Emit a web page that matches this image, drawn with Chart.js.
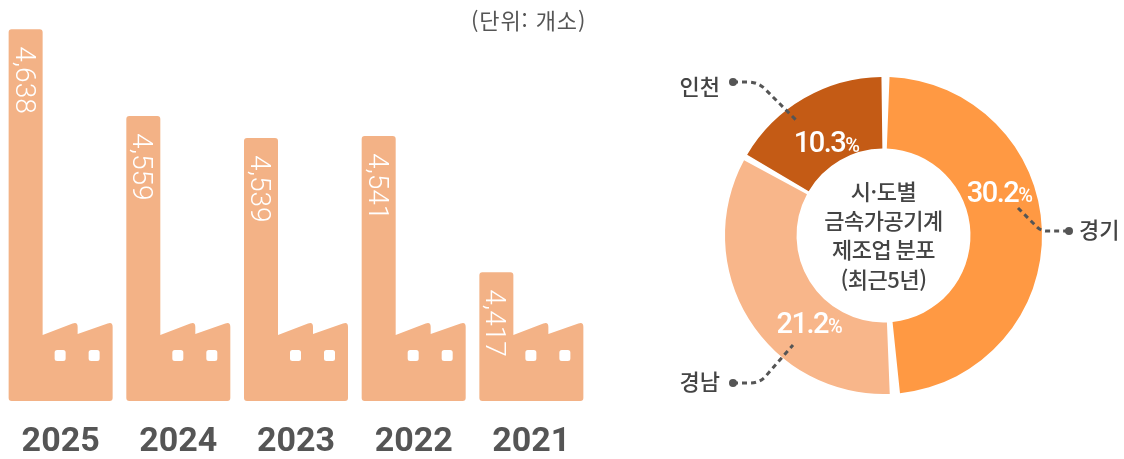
<!DOCTYPE html>
<html lang="ko">
<head>
<meta charset="utf-8">
<title>금속가공기계 제조업</title>
<script src="https://cdn.jsdelivr.net/npm/chart.js@4.4.1/dist/chart.umd.min.js"></script>
<style>
  html, body { margin: 0; padding: 0; background: #fff; }
  body { width: 1124px; height: 459px; position: relative; overflow: hidden; font-family: "Noto Sans CJK KR", sans-serif; }
  #barBox { position: absolute; left: -2px; top: 0; width: 596px; height: 459px; }
  #pieBox { position: absolute; left: 640px; top: 0; width: 484px; height: 459px; }
  .unit { position: absolute; left: 471px; top: 3px; font-size: 22px; color: #555; letter-spacing: 0.9px; }
</style>
</head>
<body>
<div id="barBox"><canvas id="factoryChart"></canvas></div>
<div id="pieBox"><canvas id="regionChart"></canvas></div>
<div class="unit">(단위: 개소)</div>
<script>
// data
const years = ['2025', '2024', '2023', '2022', '2021'];
const factoryCounts = [4638, 4559, 4539, 4541, 4417];
const regions = ['경기', '경남', '인천'];
const regionShares = [30.2, 21.2, 10.3];
const centerLines = ['시·도별', '금속가공기계', '제조업 분포', '(최근5년)'];

const axisMin = 4300, axisMax = 4650;
const factoryColor = '#F3B286';

// draws each bar as a factory: chimney up to the value, building at the base
const factoryShape = {
  id: 'factoryShape',
  afterDatasetsDraw(chart) {
    const ctx = chart.ctx;
    const meta = chart.getDatasetMeta(0);
    meta.data.forEach(function(bar, i) {
      const L = bar.x - bar.width / 2;
      const B = bar.base;
      const T = bar.y;
      const cw = 34, r = 3;
      ctx.save();
      ctx.fillStyle = factoryColor;
      ctx.beginPath();
      ctx.moveTo(L, B - r);
      ctx.lineTo(L, T + r);
      ctx.quadraticCurveTo(L, T, L + r, T);
      ctx.lineTo(L + cw - r, T);
      ctx.quadraticCurveTo(L + cw, T, L + cw, T + r);
      ctx.lineTo(L + cw, B - 66);
      ctx.lineTo(L + 64, B - 77.5);
      ctx.quadraticCurveTo(L + 69, B - 79.5, L + 69, B - 74);
      ctx.lineTo(L + 69, B - 67);
      ctx.lineTo(L + 99, B - 77.5);
      ctx.quadraticCurveTo(L + 104, B - 79.5, L + 104, B - 74);
      ctx.lineTo(L + 104, B - r);
      ctx.quadraticCurveTo(L + 104, B, L + 104 - r, B);
      ctx.lineTo(L + r, B);
      ctx.quadraticCurveTo(L, B, L, B - r);
      ctx.closePath();
      ctx.fill();

      // windows
      ctx.fillStyle = '#fff';
      ctx.beginPath();
      ctx.roundRect(L + 46, B - 51, 11, 11, 2.5);
      ctx.roundRect(L + 80, B - 51, 11, 11, 2.5);
      ctx.fill();

      // value, rotated down the chimney
      ctx.font = '300 28px Roboto, "Noto Sans", sans-serif';
      ctx.fillStyle = '#fff';
      ctx.textAlign = 'left';
      ctx.textBaseline = 'alphabetic';
      ctx.translate(L + cw / 2 - 10, T + 17);
      ctx.rotate(Math.PI / 2);
      ctx.fillText(factoryCounts[i].toLocaleString('en-US'), 0, 0);
      ctx.restore();
    });
  }
};

new Chart(document.getElementById('factoryChart'), {
  type: 'bar',
  data: {
    labels: years,
    datasets: [{
      data: factoryCounts,
      base: axisMin,
      backgroundColor: 'rgba(0,0,0,0)',
      barThickness: 104
    }]
  },
  options: {
    responsive: true,
    maintainAspectRatio: false,
    animation: false,
    layout: { padding: { top: 16, left: 0, right: 0, bottom: 0 } },
    scales: {
      x: {
        grid: { display: false, drawTicks: false },
        border: { display: false },
        afterFit: function(scale) { scale.height = 58; },
        ticks: {
          color: '#555',
          padding: 24,
          maxRotation: 0,
          font: { family: 'Roboto, "Noto Sans", sans-serif', size: 34, weight: 'bold', lineHeight: 1 }
        }
      },
      y: { display: false, min: axisMin, max: axisMax }
    },
    plugins: { legend: { display: false }, tooltip: { enabled: false } }
  },
  plugins: [factoryShape]
});

// percentages, centre title and callouts for the doughnut
const ringText = {
  id: 'ringText',
  afterDatasetsDraw(chart, args, opts) {
    const ctx = chart.ctx;
    const arcs = chart.getDatasetMeta(0).data;
    const cx = arcs[0].x, cy = arcs[0].y;

    arcs.forEach(function(arc, i) {
      const a = (arc.startAngle + arc.endAngle) / 2 + opts.angleShift[i] * Math.PI / 180;
      const rr = (arc.innerRadius + arc.outerRadius) / 2 + opts.radiusShift[i];
      const x = cx + Math.cos(a) * rr;
      const y = cy + Math.sin(a) * rr;
      const num = regionShares[i].toFixed(1);
      ctx.save();
      ctx.fillStyle = '#fff';
      ctx.textBaseline = 'alphabetic';
      ctx.textAlign = 'left';
      ctx.letterSpacing = '-1.5px';
      ctx.font = '500 29px Roboto, sans-serif';
      const w1 = ctx.measureText(num).width;
      ctx.font = '500 20px Roboto, sans-serif';
      const w2 = ctx.measureText('%').width;
      const x0 = x - (w1 + w2) / 2;
      ctx.font = '500 29px Roboto, sans-serif';
      ctx.fillText(num, x0, y + 10.5);
      ctx.font = '500 20px Roboto, sans-serif';
      ctx.fillText('%', x0 + w1, y + 10.5);
      ctx.restore();
    });

    // centre title
    ctx.save();
    ctx.fillStyle = '#444';
    ctx.font = '500 22px "Noto Sans CJK KR", sans-serif';
    ctx.textAlign = 'center';
    ctx.textBaseline = 'middle';
    ctx.letterSpacing = '-0.5px';
    centerLines.forEach(function(line, k) {
      ctx.fillText(line, cx, cy - 44 + k * 29.3);
    });
    ctx.restore();

    // callouts
    ctx.save();
    ctx.strokeStyle = '#555';
    ctx.fillStyle = '#555';
    ctx.lineWidth = 3;
    ctx.setLineDash([5, 4]);
    opts.callouts.forEach(function(c, i) {
      const p = c.path;
      ctx.beginPath();
      ctx.moveTo(cx + p[0][0], cy + p[0][1]);
      ctx.lineTo(cx + p[1][0], cy + p[1][1]);
      ctx.quadraticCurveTo(cx + p[2][0], cy + p[2][1], cx + p[3][0], cy + p[3][1]);
      ctx.lineTo(cx + p[4][0], cy + p[4][1]);
      ctx.stroke();
      ctx.beginPath();
      ctx.arc(cx + c.dot[0], cy + c.dot[1], 4, 0, Math.PI * 2);
      ctx.fill();
    });
    ctx.setLineDash([]);
    ctx.fillStyle = '#444';
    ctx.font = '500 22px "Noto Sans CJK KR", sans-serif';
    ctx.textBaseline = 'middle';
    opts.callouts.forEach(function(c, i) {
      ctx.textAlign = c.align;
      ctx.fillText(regions[i], cx + c.text[0], cy + c.text[1]);
    });
    ctx.restore();
  }
};

new Chart(document.getElementById('regionChart'), {
  type: 'doughnut',
  data: {
    labels: regions,
    datasets: [{
      data: regionShares,
      backgroundColor: ['#FF9943', '#F8B68A', '#C45B15'],
      borderWidth: 0,
      spacing: 6
    }]
  },
  options: {
    responsive: true,
    maintainAspectRatio: false,
    animation: false,
    cutout: '54%',
    layout: { padding: { left: 85, right: 82, top: 77, bottom: 65 } },
    plugins: {
      legend: { display: false },
      tooltip: { enabled: false },
      ringText: {
        angleShift: [-19, -17.5, -1.5],
        radiusShift: [4, -5, -10],
        callouts: [
          { dot: [185.5, -4.5], text: [195.5, -5.5], align: 'left',
            path: [[134.5, -27.5], [153.5, -8.5], [157.5, -4.5], [163.5, -4.5], [185.5, -4.5]] },
          { dot: [-150.5, 147.5], text: [-163.5, 146.5], align: 'right',
            path: [[-150.5, 147.5], [-133.5, 147.5], [-124.5, 147.5], [-118.5, 141.5], [-90.5, 109.5]] },
          { dot: [-150.5, -153.5], text: [-163.5, -148.5], align: 'right',
            path: [[-150.5, -153.5], [-135.5, -153.5], [-125.5, -153.5], [-118.5, -146.5], [-87.5, -115.5]] }
        ]
      }
    }
  },
  plugins: [ringText]
});
</script>
</body>
</html>
